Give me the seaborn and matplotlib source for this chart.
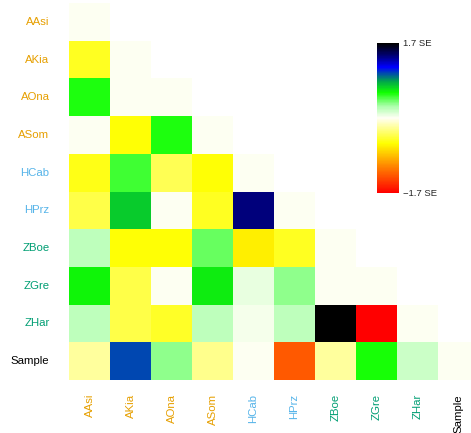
import numpy as np
import pandas as pd
import matplotlib
matplotlib.use("Agg")
import matplotlib.pyplot as plt
from matplotlib.colors import LinearSegmentedColormap
import seaborn as sns

# Populations compared pairwise
labels = ["AAsi", "AKia", "AOna", "ASom", "HCab", "HPrz", "ZBoe", "ZGre", "ZHar", "Sample"]
label_colors = ["#E69F00"] * 4 + ["#56B4E9"] * 2 + ["#009E73"] * 3 + ["#000000"]

# Lower-triangle residuals (in SE units), one list per row, diagonal included
row_AAsi = [0.0]
row_AKia = [-0.50, 0.0]
row_AOna = [0.55, 0.0, 0.0]
row_ASom = [0.0, -0.57, 0.55, 0.0]
row_HCab = [-0.52, 0.48, -0.38, -0.57, 0.0]
row_HPrz = [-0.40, 0.72, 0.0, -0.50, 1.40, 0.0]
row_ZBoe = [0.20, -0.57, -0.57, 0.40, -0.65, -0.50, 0.0]
row_ZGre = [0.60, -0.40, 0.0, 0.63, 0.07, 0.33, 0.0, 0.0]
row_ZHar = [0.20, -0.40, -0.48, 0.20, 0.03, 0.20, 1.70, -1.70, 0.0]
row_Sample = [-0.20, 1.02, 0.32, -0.25, 0.0, -1.30, -0.20, 0.56, 0.17, 0.0]

rows = [row_AAsi, row_AKia, row_AOna, row_ASom, row_HCab,
        row_HPrz, row_ZBoe, row_ZGre, row_ZHar, row_Sample]
n = len(labels)
mat = np.full((n, n), np.nan)
for i, r in enumerate(rows):
    mat[i, :len(r)] = r
df = pd.DataFrame(mat, index=labels, columns=labels)
mask = np.triu(np.ones((n, n), dtype=bool), k=1)

vlim = 1.7
cmap = LinearSegmentedColormap.from_list(
    "se",
    [(0.0, "#FF0000"), (0.17, "#FF8000"), (0.33, "#FFFF00"),
     (0.5, "#FFFFF4"), (0.58, "#AAFFAA"), (0.67, "#11FF00"),
     (0.75, "#00A050"), (0.84, "#0000FF"), (0.92, "#000070"),
     (1.0, "#000000")],
)

sns.set_theme(style="white")
plt.rcParams["font.family"] = ["Liberation Sans", "DejaVu Sans"]

fig = plt.figure(figsize=(4.71, 4.33), dpi=100)
W, H = 471, 433
ax = fig.add_axes([69 / W, 1 - 380 / H, 410 / W, 377 / H])
cax = fig.add_axes([377 / W, 1 - 193 / H, 22 / W, 150 / H])

sns.heatmap(df, mask=mask, cmap=cmap, vmin=-vlim, vmax=vlim, ax=ax,
            cbar_ax=cax, square=False, linewidths=0,
            cbar_kws={"ticks": [-vlim, vlim]})

ax.set_xlabel("")
ax.set_ylabel("")
ax.tick_params(axis="both", length=0, labelsize=8.2)
ax.tick_params(axis="y", pad=14)
ax.tick_params(axis="x", pad=10)
ax.set_yticklabels(labels, rotation=0)
ax.set_xticklabels(labels, rotation=90)
for t, c in zip(ax.get_yticklabels(), label_colors):
    t.set_color(c)
for t, c in zip(ax.get_xticklabels(), label_colors):
    t.set_color(c)
for s in ax.spines.values():
    s.set_visible(False)

cax.set_yticklabels(["\u22121.7 SE", "1.7 SE"])
cax.tick_params(length=0, labelsize=6.8, pad=3)
for s in cax.spines.values():
    s.set_visible(False)

fig.savefig("out.png", dpi=100)
